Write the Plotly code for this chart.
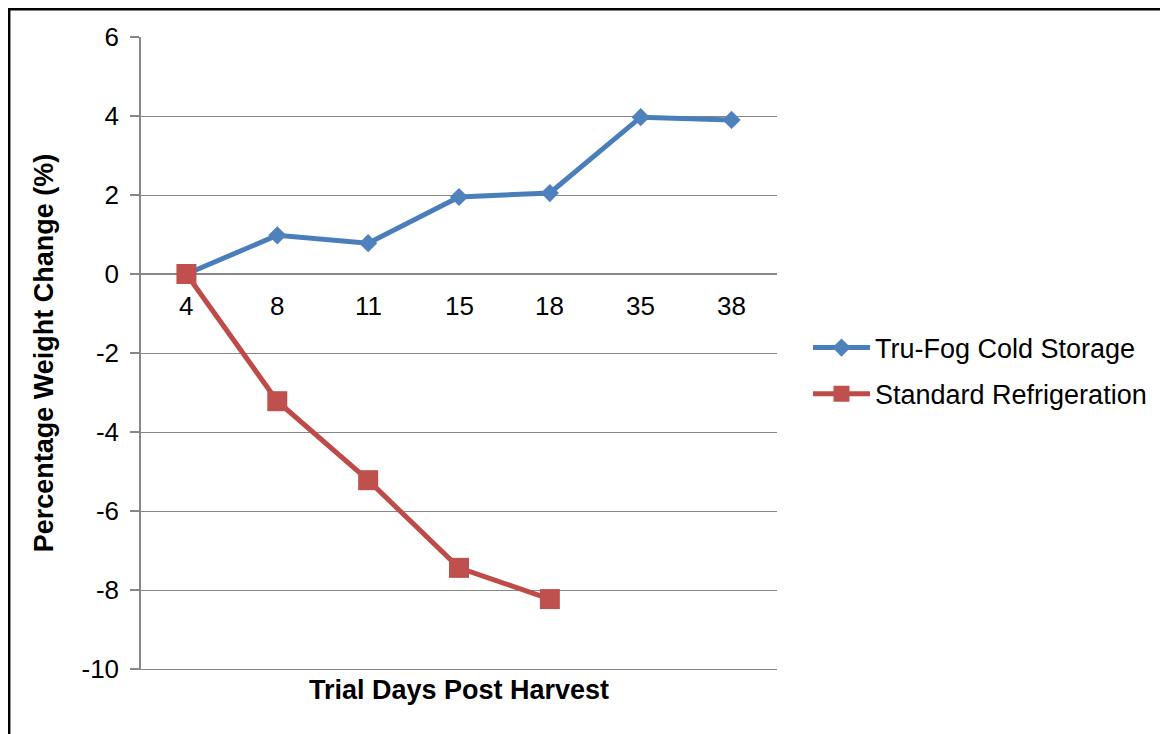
import plotly.graph_objects as go

days = ["4", "8", "11", "15", "18", "35", "38"]
tru_fog = [0.0, 0.98, 0.78, 1.95, 2.05, 3.97, 3.9]
standard = [0.0, -3.22, -5.22, -7.44, -8.23]
y_ticks = [6, 4, 2, 0, -2, -4, -6, -8, -10]

BLUE = "#4A7EBB"
RED = "#BE4B48"
GRID = "#878787"
FONT = "Liberation Sans, Arial, sans-serif"

xi = list(range(len(days)))

fig = go.Figure()
fig.add_trace(go.Scatter(
    x=xi, y=tru_fog, mode="lines+markers", name="Tru-Fog Cold Storage",
    line=dict(color=BLUE, width=5),
    marker=dict(symbol="diamond", size=14, color="#4F81BD"),
    legendgroup="a",
))
fig.add_trace(go.Scatter(
    x=xi[:len(standard)], y=standard, mode="lines+markers", name="Standard Refrigeration",
    line=dict(color=RED, width=5),
    marker=dict(symbol="square", size=20, color="#C0504D"),
    legendgroup="b",
))

for i, d in enumerate(days):
    fig.add_annotation(x=i, y=0, text=d, showarrow=False, yanchor="middle",
                       yshift=-32, font=dict(size=26, color="black", family=FONT))

# page has an 8px body margin: figure occupies page x 8..1168, y 8..734
PW, PH = 636, 632  # plot area size
fig.add_shape(type="rect", xref="paper", yref="paper",
              x0=(1.2 - 133) / PW, x1=1.8, y0=-0.3, y1=(PH + 29 - 1.2) / PH,
              line=dict(color="black", width=2.5), fillcolor="rgba(0,0,0,0)", layer="below")

fig.update_layout(
    width=1160, height=726,
    margin=dict(l=133, r=391, t=29, b=65, autoexpand=False),
    paper_bgcolor="white", plot_bgcolor="white",
    font=dict(family=FONT, size=26, color="black"),
    showlegend=True,
    legend=dict(x=(808 - 141) / PW, xanchor="left", y=(669 - 371) / PH, yanchor="middle",
                font=dict(size=27, family=FONT, color="black"),
                itemwidth=57, traceorder="grouped", tracegroupgap=8,
                bgcolor="rgba(0,0,0,0)"),
    xaxis=dict(range=[-0.5, 6.5], showgrid=False, zeroline=False, showticklabels=False,
               ticks="", showline=True, linecolor=GRID, linewidth=1,
               title=dict(text="<b>Trial Days Post Harvest</b>", standoff=11,
                          font=dict(size=27, family=FONT, color="black"))),
    yaxis=dict(range=[-10, 6], tickvals=y_ticks, ticktext=[str(v) for v in y_ticks],
               showgrid=True, gridcolor=GRID, gridwidth=1,
               zeroline=True, zerolinecolor=GRID, zerolinewidth=1.5,
               showline=True, linecolor=GRID, linewidth=1.5,
               ticks="outside", ticklen=9, tickcolor=GRID, tickwidth=1.5,
               ticklabelstandoff=6,
               tickfont=dict(size=26, family=FONT, color="black"),
               title=dict(text="<b>Percentage Weight Change (%)</b>", standoff=20,
                          font=dict(size=27, family=FONT, color="black"))),
)

fig.write_html("out.html")
